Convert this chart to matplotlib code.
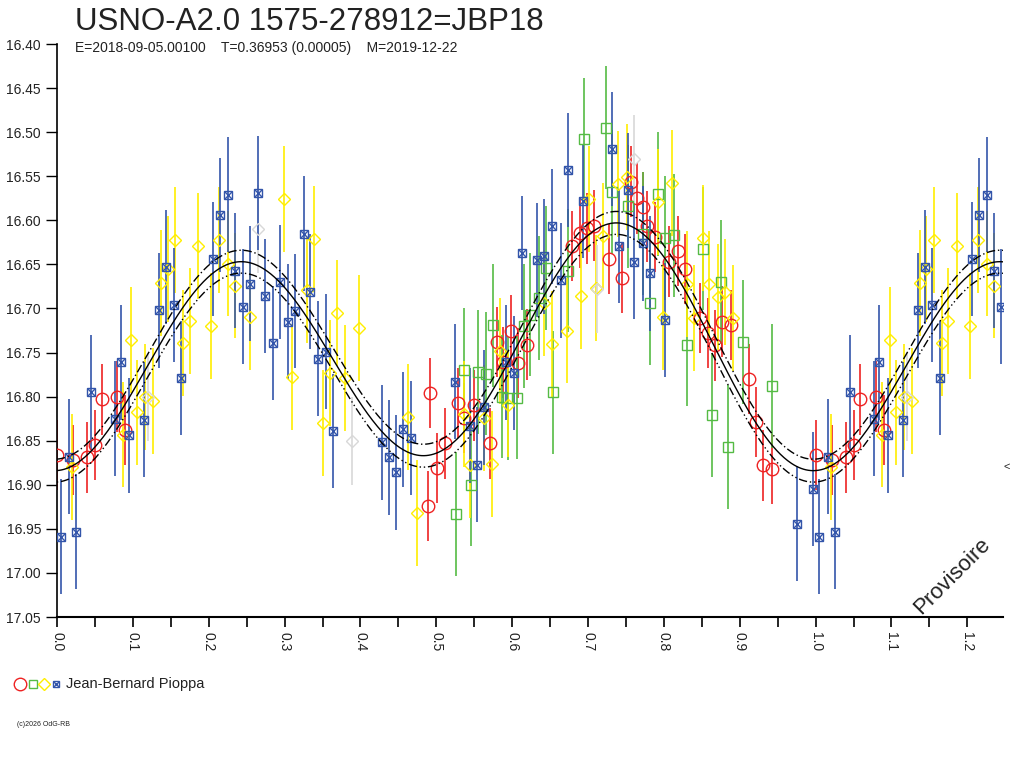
import numpy as np
import matplotlib
matplotlib.use("Agg")
import matplotlib.pyplot as plt
from matplotlib.lines import Line2D

plt.rcParams['font.family'] = ['Liberation Sans', 'DejaVu Sans']

red_ph = [0.000,0.021,0.040,0.050,0.059,0.079,0.090,0.491,0.489,0.501,0.511,0.529,0.537,0.550,0.571,0.580,0.588,0.599,0.608,0.620,0.679,0.689,0.698,0.708,0.728,0.745,0.756,0.765,0.773,0.778,0.788,0.807,0.818,0.828,0.848,0.858,0.867,0.877,0.888,0.912,0.921,0.931,0.942]
red_mag = [16.866,16.872,16.869,16.855,16.803,16.800,16.838,16.796,16.924,16.881,16.853,16.807,16.824,16.810,16.853,16.738,16.761,16.725,16.762,16.741,16.629,16.614,16.609,16.606,16.644,16.665,16.556,16.575,16.585,16.607,16.619,16.647,16.635,16.655,16.711,16.728,16.742,16.715,16.719,16.780,16.829,16.878,16.882]

green_ph = [0.536,0.546,0.526,0.555,0.566,0.575,0.586,0.595,0.606,0.615,0.624,0.635,0.645,0.654,0.674,0.694,0.723,0.732,0.753,0.772,0.782,0.792,0.802,0.813,0.831,0.851,0.864,0.875,0.884,0.904,0.943]
green_mag = [16.770,16.900,16.933,16.772,16.774,16.719,16.800,16.802,16.801,16.720,16.707,16.688,16.654,16.795,16.657,16.508,16.495,16.568,16.584,16.615,16.694,16.570,16.620,16.617,16.741,16.632,16.821,16.670,16.857,16.738,16.788]

yellow_ph = [0.020,0.087,0.098,0.106,0.116,0.127,0.137,0.146,0.156,0.166,0.175,0.186,0.203,0.214,0.226,0.235,0.255,0.299,0.310,0.330,0.339,0.350,0.360,0.369,0.379,0.398,0.463,0.474,0.536,0.544,0.563,0.574,0.584,0.594,0.642,0.652,0.672,0.691,0.701,0.711,0.720,0.740,0.751,0.792,0.799,0.811,0.830,0.840,0.851,0.859,0.871,0.880,0.891]
yellow_mag = [16.880,16.843,16.736,16.818,16.800,16.805,16.671,16.655,16.622,16.739,16.714,16.629,16.720,16.622,16.649,16.674,16.710,16.576,16.778,16.679,16.621,16.830,16.773,16.705,16.779,16.722,16.823,16.932,16.820,16.878,16.824,16.876,16.748,16.809,16.694,16.740,16.725,16.686,16.576,16.677,16.618,16.559,16.551,16.579,16.710,16.558,16.672,16.711,16.620,16.672,16.687,16.681,16.711]

gray_ph = [0.120,0.265,0.389,0.712,0.760]
gray_mag = [16.800,16.610,16.850,16.678,16.530]

blue_ph = [0.005,0.016,0.025,0.045,0.077,0.084,0.095,0.115,0.135,0.144,0.154,0.164,0.206,0.215,0.226,0.235,0.245,0.255,0.265,0.274,0.285,0.294,0.305,0.314,0.325,0.334,0.344,0.354,0.364,0.429,0.438,0.447,0.456,0.467,0.524,0.544,0.554,0.563,0.592,0.603,0.613,0.633,0.642,0.653,0.664,0.673,0.693,0.732,0.741,0.752,0.761,0.772,0.781,0.801,0.976,0.997]
blue_mag = [16.959,16.868,16.953,16.795,16.825,16.761,16.844,16.826,16.702,16.653,16.696,16.779,16.644,16.594,16.571,16.657,16.698,16.672,16.569,16.686,16.739,16.670,16.715,16.703,16.615,16.681,16.757,16.749,16.839,16.852,16.869,16.886,16.837,16.847,16.783,16.833,16.877,16.812,16.761,16.773,16.637,16.645,16.641,16.607,16.668,16.543,16.578,16.519,16.629,16.566,16.647,16.626,16.660,16.713,16.944,16.905]

err = {'red': 0.040, 'green': 0.070, 'yellow': 0.060, 'gray': 0.050, 'blue': 0.065}

# light-curve fit (Fourier coefficients)
fit_mean, fit_a2, fit_p2, fit_a1, fit_b1 = 16.75, 0.125, 0.24, 0.022, -0.0085
fit_band = 0.013

fig = plt.figure(figsize=(10.24, 7.68), dpi=100)
ax = fig.add_axes([0.0557, 0.1966, 0.9238, 0.7461])
XMAX = 1.247

def expand(ph, mg):
    ph = np.asarray(ph); mg = np.asarray(mg)
    extra = ph + 1.0
    m = extra <= XMAX
    return np.concatenate([ph, extra[m]]), np.concatenate([mg, mg[m]])

series = [
    (red_ph, red_mag, '#ee2222', 'o', 9, 'red'),
    (green_ph, green_mag, '#55bb44', 's', 7, 'green'),
    (yellow_ph, yellow_mag, '#ffee00', 'D', 6.5, 'yellow'),
    (gray_ph, gray_mag, '#d8d8d8', 'D', 6.5, 'gray'),
    (blue_ph, blue_mag, '#3355aa', 's', 5.5, 'blue'),
]
for ph, mg, col, mk, ms, key in series:
    x, y = expand(ph, mg)
    e = err[key]
    ax.vlines(x, y - e, y + e, color=col, lw=1.2, zorder=2)
for ph, mg, col, mk, ms, key in series:
    x, y = expand(ph, mg)
    ax.plot(x, y, ls='none', marker=mk, ms=ms, mfc='none', mec=col, mew=1.0, zorder=3)
    if key == 'blue':
        ax.plot(x, y, ls='none', marker='x', ms=ms, mec=col, mew=1.0, zorder=3)

phi = np.linspace(-0.02, 1.27, 800)
model = (fit_mean - fit_a2*np.cos(4*np.pi*(phi - fit_p2))
         + fit_a1*np.cos(2*np.pi*(phi - fit_p2)) + fit_b1*np.sin(2*np.pi*(phi - fit_p2)))
ax.plot(phi, model, color='black', lw=1.0, zorder=4)
ax.plot(phi, model - fit_band, color='black', lw=1.0, ls=(0, (6, 2, 1, 2)), zorder=4)
ax.plot(phi, model + fit_band, color='black', lw=1.0, ls=(0, (6, 2, 1, 2, 1, 2)), zorder=4)

ax.set_xlim(0, XMAX)
ax.set_ylim(17.05, 16.40)
ax.set_yticks(np.round(np.arange(16.40, 17.0501, 0.05), 2))
ax.set_yticklabels([f"{v:.2f}" for v in np.arange(16.40, 17.0501, 0.05)], fontsize=10, color='#222222')
ax.set_xticks(np.round(np.arange(0, 1.21, 0.1), 1))
ax.set_xticklabels([f"{v:.1f}" for v in np.arange(0, 1.21, 0.1)], rotation=-90, fontsize=10, color='#222222')
ax.set_xticks(np.arange(0.05, 1.25, 0.1), minor=True)
ax.tick_params(axis='x', which='both', direction='out', length=7, width=1.2)
ax.tick_params(axis='y', direction='out', length=8, width=1.0)
for s in ['top', 'right']:
    ax.spines[s].set_visible(False)
ax.spines['left'].set_linewidth(1.2)
ax.spines['bottom'].set_linewidth(1.5)

fig.text(0.073, 0.972, "USNO-A2.0 1575-278912=JBP18", fontsize=22.5, color='#222222', va='center')
fig.text(0.073, 0.937, "E=2018-09-05.00100    T=0.36953 (0.00005)    M=2019-12-22", fontsize=10, color='#222222', va='center')
fig.text(0.93, 0.25, "Provisoire", fontsize=16, rotation=45, ha='center', va='center', color='#222222')
fig.text(0.983, 0.392, "<", fontsize=8, ha='center', va='center', color='#222222')

ly = 1 - 684/768
handles = [(0.020, 'o', '#ee2222', 9), (0.032, 's', '#55bb44', 6), (0.043, 'D', '#ffee00', 6), (0.055, 's', '#3355aa', 5)]
for lx, mk, col, ms in handles:
    fig.add_artist(Line2D([lx], [ly], marker=mk, ms=ms, mfc='none', mec=col, mew=1.0, transform=fig.transFigure))
fig.add_artist(Line2D([0.055], [ly], marker='x', ms=5, mec='#3355aa', mew=1.0, transform=fig.transFigure))
fig.text(0.064, ly, "Jean-Bernard Pioppa", fontsize=10.5, va='center', color='#222222')
fig.text(0.017, 1 - 725/768, "(c)2026 OdG-RB", fontsize=5, va='center', color='#222222')

fig.savefig("out.png", dpi=100)
